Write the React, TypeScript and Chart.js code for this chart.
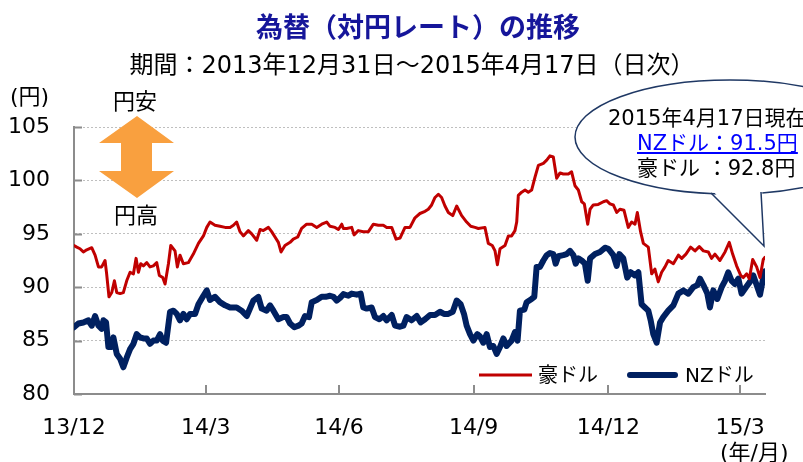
import { useEffect, useRef } from 'react';
import { Chart, registerables } from 'chart.js';

Chart.register(...registerables);

// Day offsets from 2013-12-31 and yen rates
const AUD_DAYS = [0, 1.9, 4.1, 6.4, 8.7, 12.1, 14.4, 16.7, 18.9, 21.2, 22.3, 23.9, 25.8, 27.6, 29.2, 31.5, 33.7, 36.0, 38.3, 40.6, 42.4, 44.0, 45.6, 47.4, 49.7, 51.9, 54.2, 56.5, 58.3, 60.6, 62.2, 64.5, 66.1, 69.0, 70.6, 72.4, 74.7, 78.1, 81.5, 85.0, 88.4, 90.7, 92.9, 96.3, 99.7, 103.2, 106.6, 108.9, 111.1, 113.4, 115.7, 119.1, 121.4, 124.8, 127.1, 129.3, 132.8, 135.0, 137.3, 139.6, 141.4, 144.1, 147.6, 149.8, 152.8, 155.5, 158.9, 162.4, 165.8, 169.2, 172.6, 174.9, 178.3, 180.6, 182.9, 184.0, 186.3, 189.7, 191.3, 194.2, 197.6, 201.1, 204.5, 207.9, 211.3, 213.6, 217.0, 220.0, 222.7, 226.1, 229.5, 232.9, 236.3, 239.8, 242.0, 244.3, 246.6, 248.9, 251.1, 253.4, 255.7, 258.7, 261.4, 264.8, 268.2, 271.0, 273.9, 276.2, 280.7, 283.0, 285.7, 287.6, 289.2, 291.0, 294.4, 296.7, 298.9, 301.2, 302.4, 303.5, 305.8, 308.1, 310.3, 312.6, 314.9, 317.2, 320.6, 322.9, 325.1, 327.4, 329.7, 332.0, 334.2, 337.7, 339.9, 342.2, 344.5, 346.8, 348.6, 350.9, 352.5, 354.7, 358.1, 361.6, 363.8, 366.1, 368.4, 370.7, 372.9, 375.7, 378.6, 380.9, 383.2, 384.8, 387.0, 388.9, 392.3, 394.6, 396.8, 399.1, 401.4, 403.7, 405.9, 409.4, 412.8, 415.1, 418.0, 421.2, 424.2, 427.1, 429.9, 433.3, 435.5, 437.8, 441.2, 444.7, 447.6, 449.9, 452.6, 455.4, 457.2, 459.5, 461.3, 463.6, 466.3, 468.6, 470.8, 472];
const AUD = [93.9, 93.75, 93.6, 93.3, 93.5, 93.7, 93.0, 91.9, 91.9, 92.5, 91.25, 89.1, 89.5, 90.6, 89.5, 89.4, 89.5, 90.6, 91.4, 91.25, 92.7, 91.4, 92.2, 92.0, 92.3, 91.9, 92.0, 92.3, 91.1, 90.9, 90.3, 92.2, 93.9, 93.4, 91.9, 93.0, 92.2, 92.3, 93.1, 94.1, 94.8, 95.6, 96.1, 95.8, 95.7, 95.6, 95.6, 95.8, 96.1, 95.2, 94.8, 95.3, 95.0, 94.4, 95.4, 95.3, 95.6, 95.2, 94.7, 94.2, 93.3, 93.9, 94.2, 94.5, 94.7, 95.5, 95.9, 95.9, 95.6, 95.9, 96.1, 95.7, 95.6, 95.4, 95.9, 95.5, 95.5, 95.6, 94.9, 95.3, 95.2, 95.2, 95.9, 95.8, 95.8, 95.6, 95.6, 94.5, 94.6, 95.6, 95.6, 96.5, 96.9, 97.1, 97.3, 97.7, 98.4, 98.7, 98.4, 97.6, 97.0, 96.7, 97.6, 96.7, 96.1, 95.7, 95.6, 95.5, 95.6, 94.1, 93.9, 93.4, 92.1, 93.6, 93.9, 94.8, 94.8, 95.3, 96.1, 98.6, 98.9, 99.1, 98.9, 99.1, 100.3, 101.4, 101.6, 101.9, 102.3, 102.2, 100.2, 100.7, 100.6, 100.6, 100.8, 99.5, 99.1, 98.0, 97.8, 95.9, 97.3, 97.7, 97.75, 98.0, 98.1, 97.8, 97.7, 97.0, 97.3, 97.2, 95.6, 96.1, 95.9, 97.0, 95.2, 94.1, 93.75, 91.25, 91.7, 90.5, 91.4, 91.9, 92.5, 92.2, 93.0, 92.7, 93.1, 93.75, 93.4, 93.8, 93.4, 93.3, 92.7, 93.1, 92.5, 93.3, 94.2, 93.1, 92.0, 91.1, 90.9, 91.25, 90.8, 92.6, 91.9, 90.9, 92.6, 92.8];

const NZD_DAYS = [0, 3.0, 6.4, 9.8, 12.1, 14.4, 16.7, 18.9, 20.1, 21.9, 23.5, 25.8, 26.9, 29.2, 31.5, 33.7, 36.0, 38.3, 40.6, 42.8, 45.1, 47.4, 49.7, 51.9, 54.2, 56.5, 58.8, 60.6, 62.9, 65.6, 67.9, 70.2, 72.4, 74.7, 77.0, 79.3, 82.7, 85.0, 88.4, 90.7, 92.9, 96.3, 99.7, 103.2, 106.6, 111.1, 114.5, 118.0, 120.2, 122.5, 125.9, 128.2, 131.6, 133.9, 136.2, 139.6, 143.0, 145.3, 147.6, 150.5, 153.3, 155.5, 157.8, 160.5, 162.4, 165.8, 169.2, 171.9, 174.9, 177.2, 179.4, 181.7, 184.0, 187.4, 189.7, 193.1, 195.8, 197.6, 199.9, 203.3, 205.6, 208.6, 211.3, 213.6, 217.0, 219.3, 222.7, 225.0, 227.2, 230.6, 234.1, 236.8, 239.8, 243.2, 246.6, 250.0, 252.7, 255.7, 258.7, 261.4, 264.1, 266.4, 268.2, 270.5, 272.8, 275.5, 277.3, 279.6, 281.9, 284.1, 286.4, 288.7, 291.0, 293.3, 295.5, 298.9, 301.2, 303.0, 304.6, 307.6, 309.2, 312.6, 314.4, 316.0, 318.3, 320.6, 322.9, 325.1, 327.4, 329.0, 330.8, 334.2, 336.5, 338.8, 341.1, 342.7, 344.5, 346.8, 349.0, 350.9, 352.5, 355.9, 359.3, 362.7, 365.0, 368.4, 370.7, 372.5, 375.2, 377.9, 380.2, 383.2, 385.5, 387.7, 390.0, 392.3, 393.9, 395.7, 398.0, 400.3, 402.5, 405.9, 409.4, 412.8, 416.2, 419.6, 423.0, 425.8, 427.6, 429.9, 432.6, 434.4, 436.7, 439.4, 442.4, 444.7, 446.9, 449.2, 451.5, 453.8, 456.0, 459.0, 461.7, 464.0, 466.3, 468.6, 470.4, 472];
const NZD = [86.25, 86.6, 86.7, 86.9, 86.4, 87.3, 86.4, 86.1, 86.9, 86.7, 84.4, 84.4, 85.3, 83.75, 83.3, 82.5, 83.4, 84.2, 84.7, 85.6, 85.3, 85.2, 85.2, 84.7, 85.0, 85.0, 85.6, 85.0, 84.8, 87.7, 87.8, 87.5, 86.9, 87.5, 87.0, 87.5, 87.5, 88.4, 89.2, 89.7, 88.8, 89.1, 88.6, 88.3, 88.1, 88.1, 87.8, 87.3, 88.0, 88.75, 89.1, 88.0, 87.8, 88.3, 87.8, 87.0, 87.2, 87.2, 86.6, 86.25, 86.4, 86.6, 87.3, 87.2, 88.6, 88.8, 89.1, 89.1, 89.2, 89.1, 88.75, 89.0, 89.35, 89.2, 89.4, 89.3, 89.4, 88.1, 88.0, 88.1, 87.2, 87.0, 87.3, 86.9, 87.4, 86.4, 86.3, 86.4, 87.2, 86.9, 87.3, 86.7, 87.0, 87.4, 87.4, 87.7, 87.5, 87.5, 87.7, 88.75, 88.4, 87.5, 86.4, 85.6, 85.0, 85.6, 85.4, 84.8, 85.6, 84.4, 84.5, 83.75, 84.4, 85.2, 84.5, 85.0, 85.8, 85.0, 87.8, 87.9, 88.6, 88.9, 89.1, 91.9, 91.9, 92.5, 93.0, 93.2, 93.1, 92.2, 92.9, 93.0, 93.1, 93.4, 93.0, 92.2, 92.7, 92.5, 92.2, 90.6, 92.7, 93.1, 93.3, 93.7, 93.6, 93.0, 92.0, 93.1, 92.7, 90.9, 91.4, 91.1, 91.4, 88.4, 88.1, 87.8, 86.9, 85.6, 84.8, 86.7, 87.2, 87.8, 88.3, 89.4, 89.7, 89.4, 90.0, 90.2, 90.8, 90.2, 89.4, 88.1, 89.7, 88.9, 90.0, 90.6, 91.4, 90.6, 90.3, 90.8, 89.4, 90.0, 90.5, 91.1, 90.2, 89.3, 90.6, 91.5];

const X_TICK_DAYS = [0, 90, 181, 273, 365, 455];
const X_TICK_LABELS = ['13/12', '14/3', '14/6', '14/9', '14/12', '15/3'];
const Y_TICKS = [80, 85, 90, 95, 100, 105];
const SERIES_NAMES = ['豪ドル', 'NZドル'];

const FONT = "'DejaVu Sans', 'Noto Sans CJK JP', sans-serif";
const AXIS_COLOR = '#8C8C8C';
const RED = '#C00000';
const NAVY = '#002060';

const insideTicks = {
  id: 'insideTicks',
  beforeDatasetsDraw(chart: any) {
    const { ctx, chartArea } = chart;
    const xs = chart.scales.x;
    const ys = chart.scales.y;
    ctx.save();
    ctx.strokeStyle = AXIS_COLOR;
    ctx.lineWidth = 2;
    ctx.setLineDash([]);
    ctx.beginPath();
    xs.ticks.forEach((t: any) => {
      const px = Math.round(xs.getPixelForValue(t.value));
      if (px <= chartArea.left + 2) return;
      ctx.moveTo(px, chartArea.bottom);
      ctx.lineTo(px, chartArea.bottom - 9);
    });
    ys.ticks.forEach((t: any) => {
      const py = Math.round(ys.getPixelForValue(t.value)) + 0.5;
      ctx.moveTo(chartArea.left, py);
      ctx.lineTo(chartArea.left + 8, py);
    });
    ctx.stroke();
    ctx.restore();
  },
};

function Txt(props: { x: number; y: number; size: number; center?: boolean; style?: any; children: any }) {
  const { x, y, size, center, style, children } = props;
  return (
    <div
      style={{
        position: 'absolute',
        left: x,
        top: y - size / 2,
        fontSize: size,
        lineHeight: `${size}px`,
        whiteSpace: 'nowrap',
        transform: center ? 'translateX(-50%)' : undefined,
        ...style,
      }}
    >
      {children}
    </div>
  );
}

export default function App() {
  const ref = useRef<HTMLCanvasElement>(null);

  useEffect(() => {
    const chart = new Chart(ref.current as HTMLCanvasElement, {
      type: 'line',
      data: {
        datasets: [
          {
            label: SERIES_NAMES[0],
            data: AUD_DAYS.map((d, i) => ({ x: d, y: AUD[i] })),
            borderColor: RED,
            backgroundColor: RED,
            borderWidth: 3,
            pointRadius: 0,
            tension: 0,
            borderJoinStyle: 'round',
            borderCapStyle: 'round',
          },
          {
            label: SERIES_NAMES[1],
            data: NZD_DAYS.map((d, i) => ({ x: d, y: NZD[i] })),
            borderColor: NAVY,
            backgroundColor: NAVY,
            borderWidth: 6,
            pointRadius: 0,
            tension: 0,
            borderJoinStyle: 'round',
            borderCapStyle: 'round',
          },
        ],
      },
      options: {
        responsive: false,
        animation: false,
        devicePixelRatio: 1,
        layout: { padding: { top: 127, right: 38, left: 0, bottom: 0 } },
        plugins: { legend: { display: false }, tooltip: { enabled: false } },
        scales: {
          x: {
            type: 'linear',
            min: 0,
            max: 472,
            afterBuildTicks: (s: any) => {
              s.ticks = X_TICK_DAYS.map((v) => ({ value: v }));
            },
            afterFit: (s: any) => {
              s.height = 68;
            },
            grid: { display: false, drawTicks: false },
            border: { display: true, color: AXIS_COLOR, width: 2 },
            ticks: {
              autoSkip: false,
              maxRotation: 0,
              padding: 21,
              color: '#000',
              font: { family: FONT, size: 22 },
              callback: (v: any) => {
                const i = X_TICK_DAYS.indexOf(Number(v));
                return i >= 0 ? X_TICK_LABELS[i] : '';
              },
            },
          },
          y: {
            type: 'linear',
            min: 80,
            max: 105,
            afterBuildTicks: (s: any) => {
              s.ticks = Y_TICKS.map((v) => ({ value: v }));
            },
            afterFit: (s: any) => {
              s.width = 74;
            },
            grid: { color: '#BFBFBF', lineWidth: 1, drawTicks: false },
            border: { display: true, color: AXIS_COLOR, width: 2, dash: [2, 2] },
            ticks: {
              padding: 24,
              color: '#000',
              font: { family: FONT, size: 22 },
            },
          },
        },
      } as any,
      plugins: [insideTicks],
    } as any);
    return () => chart.destroy();
  }, []);

  return (
    <div
      style={{
        position: 'absolute',
        left: 0,
        top: 0,
        width: 803,
        height: 462,
        overflow: 'hidden',
        background: '#fff',
        fontFamily: FONT,
        color: '#000',
      }}
    >
      <canvas ref={ref} width={803} height={462} style={{ position: 'absolute', left: 0, top: 0, width: 803, height: 462 }} />
      <svg width={803} height={462} style={{ position: 'absolute', left: 0, top: 0 }}>
        {/* yen direction arrow */}
        <polygon
          points="137,116 174,143 152,143 152,171 174,171 137,198 99,171 121,171 121,143 99,143"
          fill="#F9A03F"
        />
        {/* callout bubble */}
        <ellipse cx={730} cy={137} rx={155} ry={57} fill="#fff" stroke="#1F3864" strokeWidth={1.5} />
        <polygon points="711,189 764,246 762,188" fill="#fff" />
        <polyline points="711,193 764,246 761,192" fill="none" stroke="#1F3864" strokeWidth={1.5} />
        {/* legend samples */}
        <line x1={479} y1={375} x2={532} y2={375} stroke={RED} strokeWidth={3} />
        <line x1={630} y1={375} x2={675} y2={375} stroke={NAVY} strokeWidth={6} strokeLinecap="round" />
      </svg>

      <Txt x={418} y={25} size={27} center style={{ fontFamily: "'Noto Sans CJK JP', sans-serif", fontWeight: 700, color: '#16169A' }}>
        為替（対円レート）の推移
      </Txt>
      <Txt x={412} y={65} size={24} center>
        期間：2013年12月31日～2015年4月17日（日次）
      </Txt>
      <Txt x={10} y={97} size={22}>(円)</Txt>
      <Txt x={135} y={102} size={22} center>円安</Txt>
      <Txt x={136} y={216} size={22} center>円高</Txt>
      <Txt x={720} y={453} size={22}>(年/月)</Txt>

      <Txt x={608} y={118} size={21}>2015年4月17日現在</Txt>
      <Txt x={637} y={143} size={21} style={{ color: '#0000FF', textDecoration: 'underline' }}>
        NZドル：91.5円
      </Txt>
      <Txt x={637} y={168} size={21}>豪ドル ：92.8円</Txt>

      <Txt x={538} y={375} size={20}>{SERIES_NAMES[0]}</Txt>
      <Txt x={685} y={375} size={20}>{SERIES_NAMES[1]}</Txt>
    </div>
  );
}
